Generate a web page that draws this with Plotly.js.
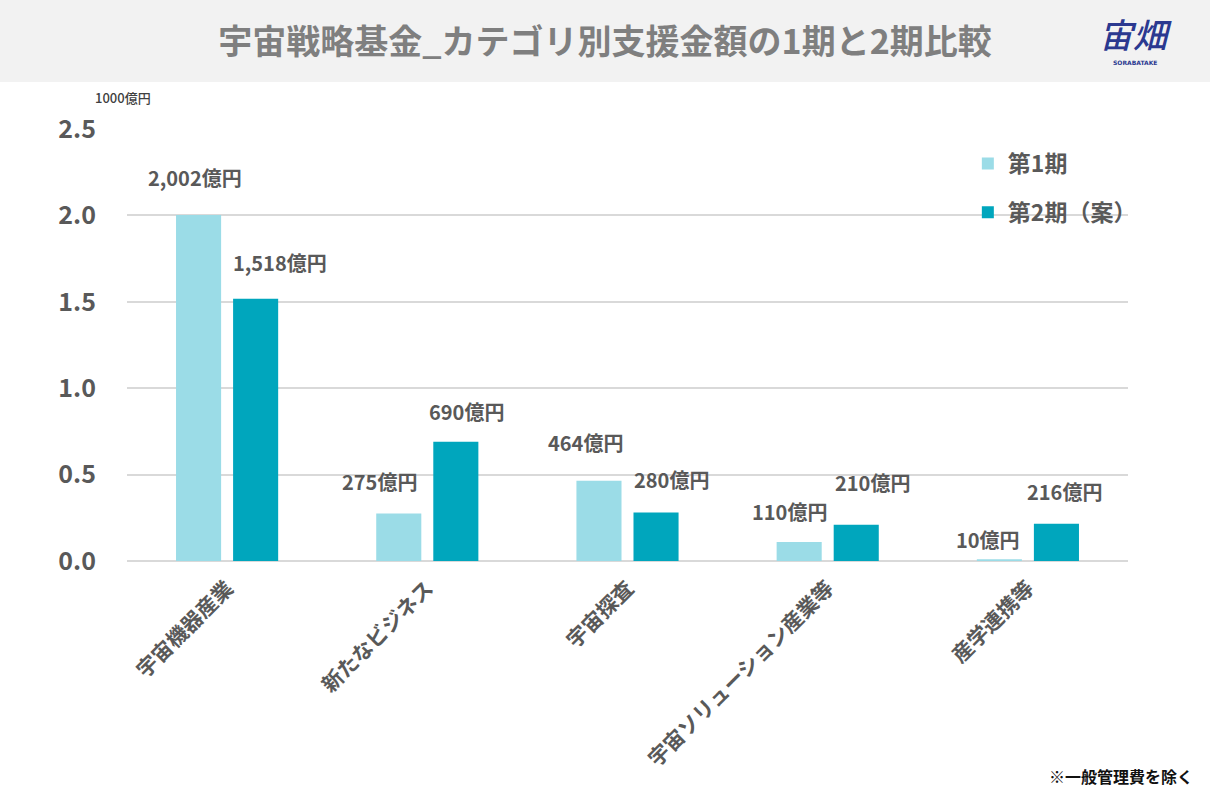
<!DOCTYPE html>
<html>
<head>
<meta charset="utf-8">
<script src="https://cdn.plot.ly/plotly-3.0.1.min.js"></script>
<style>
  html,body{margin:0;padding:0;background:#fff;}
  #chart{width:1210px;height:805px;}
</style>
</head>
<body>
<div id="chart"></div>
<script>
// ── データ（単位：億円） ──
const categories = ['宇宙機器産業','新たなビジネス','宇宙探査','宇宙ソリューション産業等','産学連携等'];
const phase1 = [2002, 275, 464, 110, 10];
const phase2 = [1518, 690, 280, 210, 216];
const seriesNames = ['第1期','第2期（案）'];
const yTicks = [0, 0.5, 1.0, 1.5, 2.0, 2.5];

// ラベル位置の微調整（px）
const shiftX1 = [-32, -48, -42, -38, -40];
const shiftY1 = [38, 32, 38, 30, 20];
const shiftX2 = [53, 39, 44, 45, 37];
const shiftY2 = [36, 30, 33, 42, 32];

const COL1 = '#9bdce7', COL2 = '#00a6bd', GREY = '#595959';
const FONT = '"Noto Sans CJK JP", "Noto Sans", sans-serif';

const toY = v => v / 1000;
const fmt = v => v.toLocaleString('en-US') + '億円';

const traces = [
  {type:'bar', name:seriesNames[0], x:categories, y:phase1.map(toY),
   marker:{color:COL1}, legendgroup:'a', hoverinfo:'skip'},
  {type:'bar', name:seriesNames[1], x:categories, y:phase2.map(toY),
   marker:{color:COL2}, legendgroup:'b', hoverinfo:'skip'},
];

const labelFont = {family:FONT, size:20, color:GREY, weight:700};
const annotations = [];
categories.forEach((c,i)=>{
  annotations.push({x:c, y:toY(phase1[i]), xref:'x', yref:'y', text:fmt(phase1[i]), showarrow:false,
    xshift:shiftX1[i], yshift:shiftY1[i], xanchor:'center', yanchor:'middle', font:labelFont});
  annotations.push({x:c, y:toY(phase2[i]), xref:'x', yref:'y', text:fmt(phase2[i]), showarrow:false,
    xshift:shiftX2[i], yshift:shiftY2[i], xanchor:'center', yanchor:'middle', font:labelFont});
});
annotations.push(
  {xref:'paper', yref:'paper', x:-0.004, y:1.074, xanchor:'center', yanchor:'middle', text:'1000億円', showarrow:false,
   font:{family:FONT, size:13, color:'#404040', weight:500}},
  {xref:'paper', yref:'paper', x:1.067, y:-0.4977, xanchor:'right', yanchor:'middle', text:'※一般管理費を除く', showarrow:false,
   font:{family:FONT, size:16, color:'#111', weight:700}},
  {xref:'paper', yref:'paper', x:1.007, y:1.222, xanchor:'center', yanchor:'middle', text:'宙畑', showarrow:false,
   font:{family:FONT, size:34, color:'#2b3990', style:'italic', weight:500}},
  {xref:'paper', yref:'paper', x:1.007, y:1.153, xanchor:'center', yanchor:'middle', text:'SORABATAKE', showarrow:false,
   font:{family:'DejaVu Sans', size:6, color:'#2b3990', weight:700}}
);

const layout = {
  width:1210, height:805,
  paper_bgcolor:'#ffffff', plot_bgcolor:'#ffffff',
  margin:{l:127, r:82, t:129, b:244},
  font:{family:FONT, color:GREY},
  title:{text:'宇宙戦略基金_カテゴリ別支援金額の1期と2期比較', xref:'container', yref:'container',
    x:0.5, y:0.948, xanchor:'center', yanchor:'middle',
    font:{family:FONT, size:34, color:'#7f7f7f', weight:700}},
  barmode:'group', bargap:0.43, bargroupgap:0.21,
  xaxis:{tickangle:-45, showgrid:false, showline:false, ticks:'', ticklabelstandoff:10,
    tickfont:{family:FONT, size:21, color:GREY, weight:700}},
  yaxis:{range:[0,2.5], tickvals:yTicks, tickformat:'.1f', showgrid:true, gridcolor:'#d9d9d9', gridwidth:2,
    zeroline:true, zerolinecolor:'#d9d9d9', zerolinewidth:2, showline:false, ticks:'',
    ticklabelstandoff:30, tickfont:{family:FONT, size:25, color:GREY, weight:600}},
  showlegend:true,
  legend:{x:0.84, y:0.97, xanchor:'left', yanchor:'top', bgcolor:'rgba(0,0,0,0)',
    tracegroupgap:16, font:{family:FONT, size:23, color:GREY, weight:700}},
  shapes:[{type:'rect', xref:'paper', yref:'paper', x0:-0.2, x1:1.1, y0:1.1088, y1:1.3,
    fillcolor:'#f2f2f2', line:{width:0}, layer:'below'}],
  annotations:annotations,
};

Plotly.newPlot('chart', traces, layout, {displayModeBar:false, staticPlot:true});
</script>
</body>
</html>
